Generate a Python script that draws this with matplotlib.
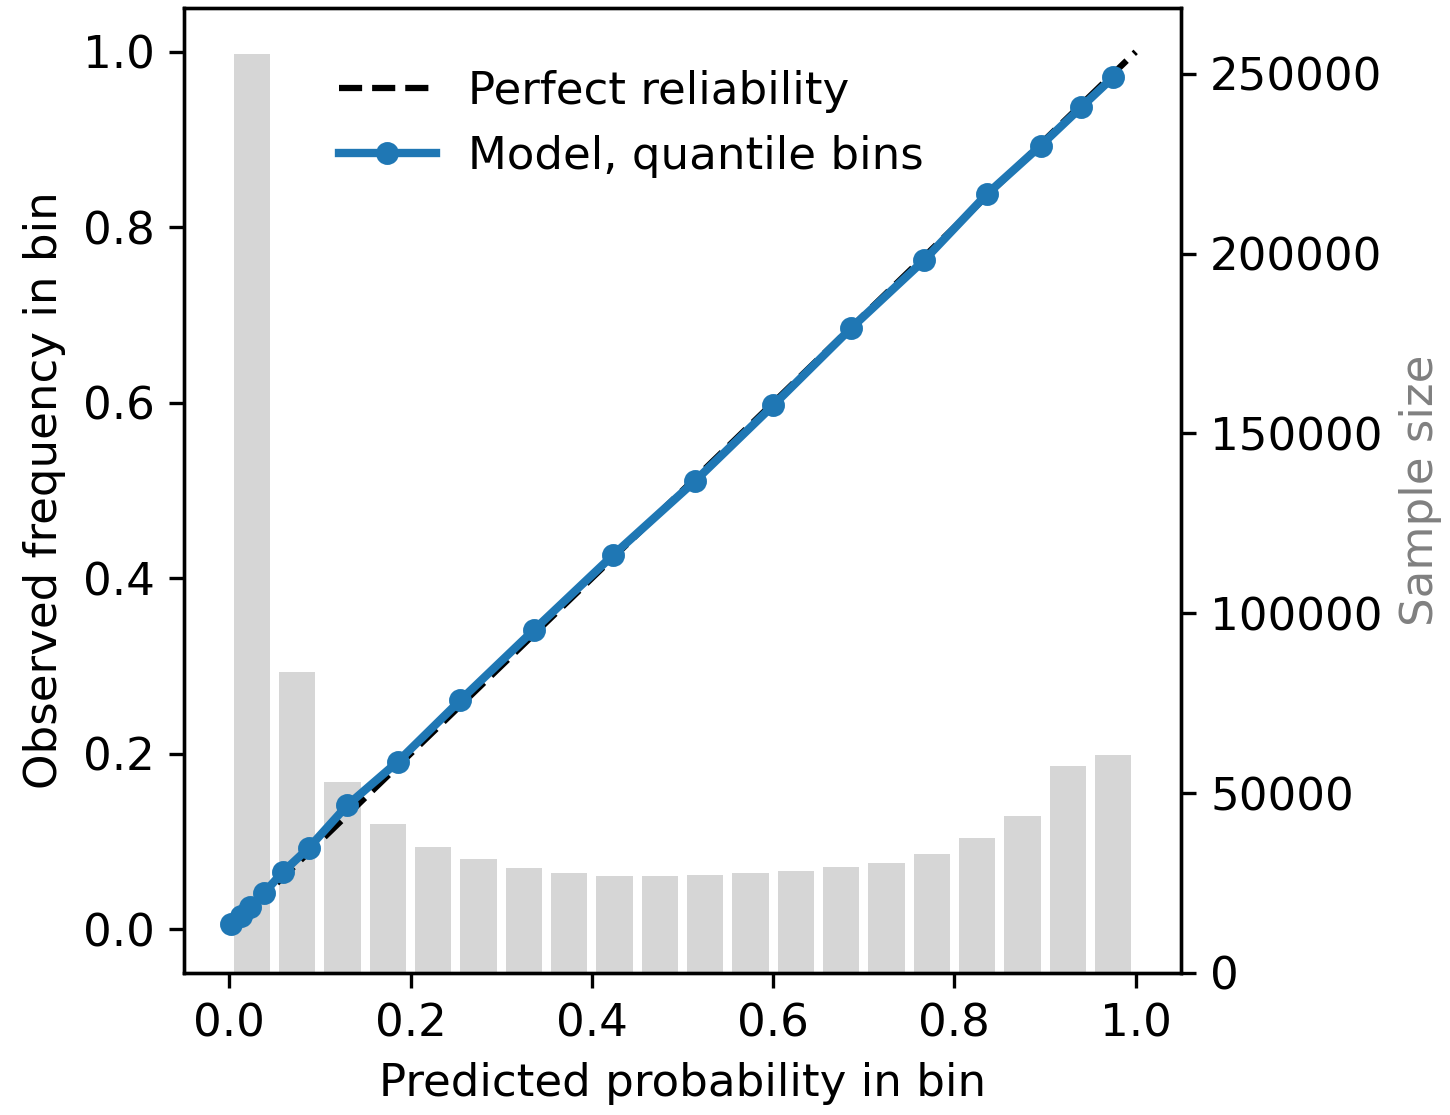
import matplotlib
matplotlib.use("Agg")
import matplotlib.pyplot as plt
import numpy as np

plt.rcParams["font.size"] = 10.85

# Histogram of predictions (20 equal-width bins)
bin_centers = [0.025, 0.075, 0.125, 0.175, 0.225, 0.275, 0.325, 0.375, 0.425, 0.475,
               0.525, 0.575, 0.625, 0.675, 0.725, 0.775, 0.825, 0.875, 0.925, 0.975]
bin_counts = [255500, 83700, 53100, 41400, 35000, 31700, 29200, 27800, 27100, 26900,
              27300, 27800, 28300, 29500, 30600, 33100, 37600, 43700, 57600, 60600]

# Reliability curve (quantile bins)
pred_prob = [0.002, 0.0125, 0.023, 0.038, 0.059, 0.088, 0.130, 0.186, 0.255, 0.336,
             0.423, 0.514, 0.600, 0.686, 0.767, 0.836, 0.895, 0.940, 0.975]
obs_freq = [0.006, 0.015, 0.025, 0.041, 0.065, 0.093, 0.141, 0.191, 0.261, 0.341,
            0.426, 0.511, 0.597, 0.685, 0.763, 0.838, 0.893, 0.937, 0.971]

fig = plt.figure(figsize=(1450/300, 1115/300), dpi=300)
ax = fig.add_axes([184/1450, 1 - 973/1115, (1181-184)/1450, (973-8)/1115])
ax2 = ax.twinx()

ax2.bar(bin_centers, bin_counts, width=0.04, color="#d6d6d6")
ax2.set_ylabel("Sample size", color="gray")
ax2.set_yticks([0, 50000, 100000, 150000, 200000, 250000])

ax.plot([0, 1], [0, 1], "k--", lw=1.5, label="Perfect reliability")
ax.plot(pred_prob, obs_freq, "-o", color="#1f77b4", lw=2, ms=4.5,
        label="Model, quantile bins")
ax.set_zorder(ax2.get_zorder() + 1)
ax.patch.set_visible(False)

ax.set_xlim(-0.05, 1.05)
ax.set_ylim(-0.05, 1.05)
ax.set_xticks([0.0, 0.2, 0.4, 0.6, 0.8, 1.0])
ax.set_yticks([0.0, 0.2, 0.4, 0.6, 0.8, 1.0])
ax.set_xlabel("Predicted probability in bin")
ax.set_ylabel("Observed frequency in bin")

ax.legend(loc="upper left", bbox_to_anchor=(0.137, 0.955), borderaxespad=0,
          frameon=False, handlelength=2.15, handletextpad=0.7)

fig.savefig("out.png", dpi=300)
